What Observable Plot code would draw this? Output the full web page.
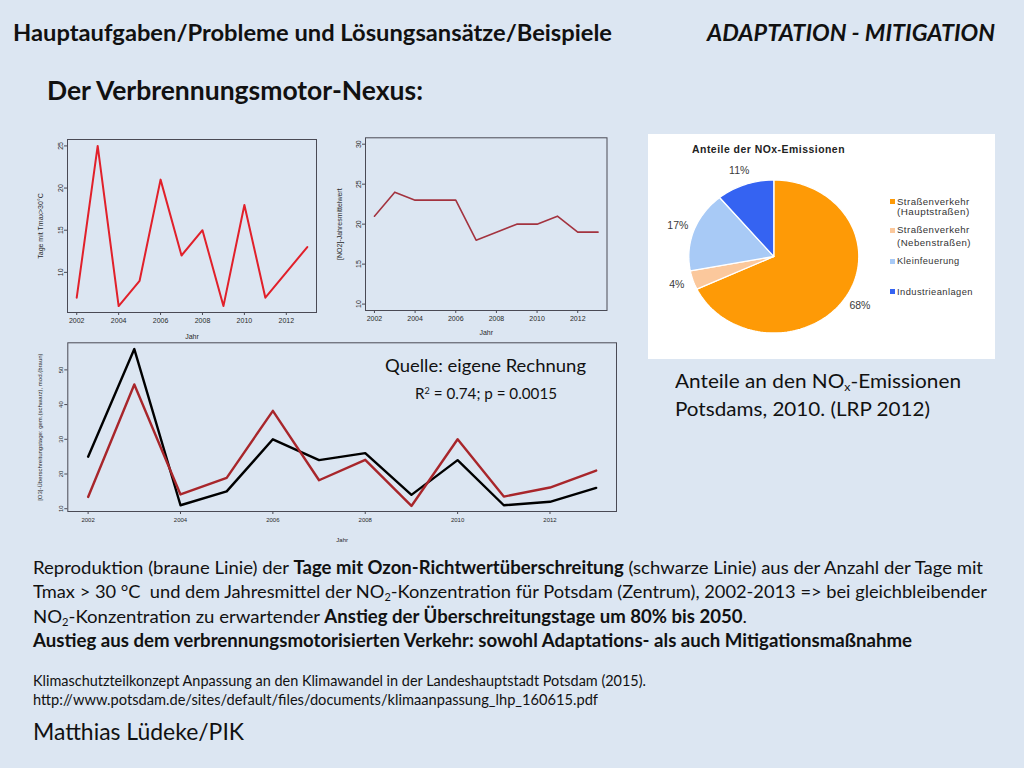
<!DOCTYPE html>
<html><head><meta charset="utf-8">
<script src="https://cdn.jsdelivr.net/npm/d3@7"></script>
<script src="https://cdn.jsdelivr.net/npm/@observablehq/plot@0.6"></script>
<style>
html,body{margin:0;padding:0}
body{width:1024px;height:768px;background:#dce6f2;position:relative;overflow:hidden;font-family:Lato,"Open Sans",sans-serif;color:#111}
.t{position:absolute;white-space:nowrap;transform-origin:0 50%;display:inline-block}
.b{font-weight:700}
.chart{position:absolute}
.chart svg{overflow:visible}
sub,sup{line-height:0}
#piebox{position:absolute;left:648px;top:134px;width:347px;height:225px;background:#fff}
.lg{position:absolute;font-family:"Liberation Sans",Arial,sans-serif;font-size:9.5px;color:#333;letter-spacing:0.45px;white-space:nowrap;line-height:1;transform-origin:0 50%}
.sw{position:absolute;width:5px;height:5px}
</style></head>
<body>
<div id="c1" class="chart" style="left:30px;top:130px"></div>
<div id="c2" class="chart" style="left:330px;top:130px"></div>
<div id="c3" class="chart" style="left:30px;top:335px"></div>
<div id="piebox"><div id="pie" style="position:absolute;left:0;top:0"></div></div>
<div id="texts"></div>
<script>
// ---------- data ----------
const years = [2002,2003,2004,2005,2006,2007,2008,2009,2010,2011,2012,2013];
const tmaxDays = [7,25,6,9,21,12,15,6,18,7,10,13];
const no2Mean = [21,24,23,23,23,18,19,20,20,21,19,19];
const ozoneObserved = [25,56,11,15,30,24,26,14,24,11,12,16];
const ozoneModel = [13.4,45.8,14.1,18.9,38.2,18.2,24.1,10.8,30,13.5,16.1,21];
const xTicks = [2002,2004,2006,2008,2010,2012];
const yTicks1 = [10,15,20,25];
const yTicks2 = [10,15,20,25,30];
const yTicks3 = [10,20,30,40,50];
const noxSources = ["Straßenverkehr (Hauptstraßen)","Straßenverkehr (Nebenstraßen)","Kleinfeuerung","Industrieanlagen"];
const noxLegendLines = [["Straßenverkehr","(Hauptstraßen)"],["Straßenverkehr","(Nebenstraßen)"],["Kleinfeuerung"],["Industrieanlagen"]];
const noxShares = [68,4,17,11];
const noxColors = ["#fe9a06","#fbc89c","#a8caf6","#3563f2"];

// R-style "r" axis extension (4%)
function ext(lo,hi){const d=(hi-lo)*0.04;return [lo-d,hi+d];}
const yearDomain = ext(2002,2013);
const fmt = d=>String(d);
const axisStyle = {fontFamily:"'Liberation Sans',Arial,sans-serif",fontSize:"7px",color:"#2a2a2a",background:"transparent",overflow:"visible"};

function rChart({width,height,ml,mr,mt,mb,ydom,yticks,ylabel,series,ylabOff,xlabOff,fs}){
  const st = Object.assign({},axisStyle,{fontSize:fs+"px"});
  return Plot.plot({
    width,height,marginLeft:ml,marginRight:mr,marginTop:mt,marginBottom:mb,
    style:st,
    x:{domain:yearDomain},
    y:{domain:ydom},
    marks:[
      Plot.frame({stroke:"#4a4a55",strokeWidth:1}),
      Plot.axisX({ticks:xTicks,tickFormat:fmt,tickSize:3,tickPadding:3,stroke:"#4a4a55",label:"Jahr",labelAnchor:"center",labelOffset:xlabOff,labelArrow:"none"}),
      Plot.axisY({ticks:yticks,tickFormat:fmt,tickSize:3,tickPadding:2,tickRotate:-90,stroke:"#4a4a55",label:ylabel,labelAnchor:"center",labelOffset:ylabOff,labelArrow:"none"}),
      ...series.map(s=>Plot.line(years.map((y,i)=>({year:y,v:s.values[i]})),{x:"year",y:"v",stroke:s.color,strokeWidth:s.w}))
    ]
  });
}

document.getElementById("c1").append(rChart({width:300,height:215,ml:37,mr:14,mt:9,mb:33,
  ydom:ext(6,25),yticks:yTicks1,ylabel:"Tage mit Tmax>30°C",ylabOff:29,xlabOff:26,fs:7,
  series:[{values:tmaxDays,color:"#e1202a",w:2}]}));
document.getElementById("c2").append(rChart({width:280,height:215,ml:35,mr:3.5,mt:7.3,mb:35,
  ydom:ext(10,30),yticks:yTicks2,ylabel:"[NO2]-Jahresmittelwert",ylabOff:28,xlabOff:24,fs:7,
  series:[{values:no2Mean,color:"#a3333f",w:1.6}]}));
document.getElementById("c3").append(rChart({width:590,height:215,ml:37.3,mr:4,mt:7.3,mb:39,
  ydom:[9.2,57.8],yticks:yTicks3,ylabel:"[O3]-Überschreitungstage: gem.(schwarz), mod.(braun)",ylabOff:30,xlabOff:30,fs:6,
  series:[{values:ozoneObserved,color:"#000",w:2.4},{values:ozoneModel,color:"#a8262b",w:2.4}]}));

// ---------- pie ----------
const W=347,H=225,cx=125.3,cy=122,rx=85,ry=76.5;
let acc=0;
const slices = noxShares.map((v,i)=>{
  const a0=acc/100*2*Math.PI; acc+=v; const a1=acc/100*2*Math.PI;
  const pts=[{x:0,y:0}];
  const n=Math.max(8,Math.ceil(v*2));
  for(let k=0;k<=n;k++){const t=a0+(a1-a0)*k/n;pts.push({x:Math.sin(t),y:Math.cos(t)});}
  pts.push({x:0,y:0});
  const mid=(a0+a1)/2;
  return {name:noxSources[i],share:v,color:noxColors[i],pts,lx:1.2*Math.sin(mid),ly:1.2*Math.cos(mid)};
});
const pie = Plot.plot({
  width:W,height:H,margin:0,
  style:{background:"transparent",overflow:"visible"},
  x:{domain:[-cx/rx,(W-cx)/rx],axis:null},
  y:{domain:[-(H-cy)/ry,cy/ry],axis:null},
  marks:[
    ...slices.map(s=>Plot.line(s.pts,{x:"x",y:"y",fill:s.color,stroke:"#fff",strokeWidth:1.3,strokeLinejoin:"round"})),
    Plot.text(slices,{x:"lx",y:"ly",text:d=>d.share+"%",fontSize:10.5,fill:"#3a3a3a",fontFamily:"'Liberation Sans',Arial,sans-serif",style:"letter-spacing:0.6px"})
  ]
});
document.getElementById("pie").append(pie);
// pie title & legend
const pb=document.getElementById("piebox");
const ttl=document.createElement("div");
ttl.className="lg t";ttl.style.cssText+="left:44px;top:10px;font-weight:700;font-size:10.5px;color:#222;letter-spacing:0.5px";
ttl.dataset.w="153";ttl.textContent="Anteile der NOx-Emissionen";pb.append(ttl);
const legY=[[67.7,77.7],[96,108.7],[127],[157.7]];
const legW=[[72.7,72.7],[72.7,74],[62.7],[76]];
noxLegendLines.forEach((lines,i)=>{
  const sw=document.createElement("div");sw.className="sw";
  sw.style.left="241.5px";sw.style.top=(legY[i][0]-2.5)+"px";sw.style.background=noxColors[i];pb.append(sw);
  lines.forEach((ln,j)=>{
    const d=document.createElement("div");d.className="lg";
    d.style.left="249.3px";d.style.top=(legY[i][j]-5)+"px";d.textContent=ln;d.dataset.w=legW[i][j];pb.append(d);
  });
});

// ---------- slide texts ----------
const texts = [
  {h:"Hauptaufgaben/Probleme und Lösungsansätze/Beispiele",x:13,c:33,s:22,b:1,w:599},
  {h:"<i>ADAPTATION - MITIGATION</i>",x:707,c:33,s:22,b:1,w:288},
  {h:"Der Verbrennungsmotor-Nexus:",x:47,c:90,s:27,b:1,w:376},
  {h:"Anteile an den NO<sub style='font-size:0.6em;vertical-align:-0.25em'>x</sub>-Emissionen",x:675,c:380,s:20,w:286},
  {h:"Potsdams, 2010. (LRP 2012)",x:675,c:408,s:20,w:255},
  {h:"Reproduktion (braune Linie) der <b>Tage mit Ozon-Richtwertüberschreitung</b> (schwarze Linie) aus der Anzahl der Tage mit",x:33,c:568,s:18,w:950},
  {h:"Tmax &gt; 30 °C&nbsp; und dem Jahresmittel der NO<sub style='font-size:0.6em;vertical-align:-0.25em'>2</sub>-Konzentration für Potsdam (Zentrum), 2002-2013 =&gt; bei gleichbleibender",x:33,c:592,s:18,w:954},
  {h:"NO<sub style='font-size:0.6em;vertical-align:-0.25em'>2</sub>-Konzentration zu erwartender <b>Anstieg der Überschreitungstage um 80% bis 2050</b>.",x:33,c:617,s:18,w:714},
  {h:"<b>Austieg aus dem verbrennungsmotorisierten Verkehr: sowohl Adaptations- als auch Mitigationsmaßnahme</b>",x:33,c:641,s:18,w:879},
  {h:"Klimaschutzteilkonzept Anpassung an den Klimawandel in der Landeshauptstadt Potsdam (2015).",x:33,c:680,s:15,w:613},
  {h:"http://www.potsdam.de/sites/default/files/documents/klimaanpassung_lhp_160615.pdf",x:33,c:699,s:15,w:565},
  {h:"Matthias Lüdeke/PIK",x:33,c:732,s:23,w:211},
  {h:"Quelle: eigene Rechnung",x:385,c:365,s:17.5,w:201},
  {h:"R<sup style='font-size:0.6em;vertical-align:0.6em'>2</sup> = 0.74; p = 0.0015",x:415,c:393,s:15,w:142}
];
const tc=document.getElementById("texts");
texts.forEach(t=>{
  const d=document.createElement("div");d.className="t"+(t.b?" b":"");
  d.style.left=t.x+"px";d.style.fontSize=t.s+"px";d.style.lineHeight=(t.s*1.2)+"px";
  d.style.top=(t.c-t.s*0.6)+"px";d.innerHTML=t.h;d.dataset.w=t.w;tc.append(d);
});
document.querySelectorAll("[data-w]").forEach(el=>{
  const w=el.getBoundingClientRect().width;const target=+el.dataset.w;
  if(w>0) el.style.transform=`scaleX(${target/w})`;
});
</script>
</body></html>
